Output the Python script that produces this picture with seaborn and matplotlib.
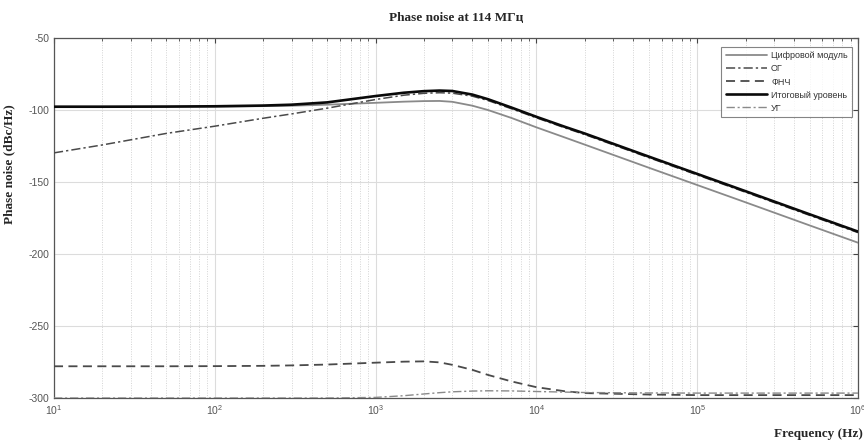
import numpy as np
import pandas as pd
import matplotlib
matplotlib.use("Agg")
import matplotlib.pyplot as plt
import matplotlib.ticker as mticker
import seaborn as sns

# ---- data ----
freq = [10, 20, 50, 100, 200, 300, 500, 1000, 1500, 2000, 2500, 3000, 4000,
        5000, 7000, 10000, 15000, 20000, 50000, 100000, 200000, 500000, 1000000]

digital = [-98, -98, -98, -97.9, -97.6, -97.3, -96.6, -95.3, -94.5, -94.1, -94.0,
           -94.6, -97.3, -100.3, -105.8, -112.3, -119.3, -124.3, -140.3, -152.3,
           -164.3, -180.3, -192.3]
og = [-130, -124.5, -116.5, -111.5, -106, -103, -99, -93, -90, -88.7, -88.3,
      -88.6, -90.7, -93.7, -99.4, -105.7, -112.6, -117.3, -133.3, -145.3,
      -157.3, -173.3, -185.3]
lpf = [-278, -278, -278, -277.9, -277.7, -277.4, -276.8, -275.5, -274.8, -274.6,
       -275.3, -277, -280.5, -284, -288.5, -292.5, -295.3, -296.6, -297.6, -298,
       -298, -298, -298]
total = [-98, -98, -97.9, -97.7, -97.2, -96.6, -95.0, -90.6, -88.3, -87.2, -86.8,
         -87.1, -89.6, -92.8, -98.6, -105.0, -111.9, -116.6, -132.6, -144.6,
         -156.6, -172.6, -184.6]
vco = [-300, -300, -300, -300, -300, -300, -300, -299.6, -298.4, -297.2, -296.3,
       -295.7, -295.2, -295.0, -295.1, -295.5, -295.9, -296.2, -296.5, -296.6,
       -296.6, -296.6, -296.6]

labels = ["Цифровой модуль", "ОГ", "ФНЧ", "Итоговый уровень", "УГ"]
series = [digital, og, lpf, total, vco]

title = "Phase noise at 114 МГц"
ylabel = "Phase noise (dBc/Hz)"
xlabel = "Frequency (Hz)"
yticks = [-50, -100, -150, -200, -250, -300]

# ---- style ----
sns.set_style("white")
plt.rcParams["font.family"] = ["Liberation Sans", "DejaVu Sans"]
plt.rcParams["axes.unicode_minus"] = False

styles = {
    "Цифровой модуль": dict(color="#8a8a8a", lw=1.3, ls="-"),
    "ОГ": dict(color="#4a4a4a", lw=1.1, ls=(0, (6, 2, 1.5, 2))),
    "ФНЧ": dict(color="#4a4a4a", lw=1.3, ls=(0, (5, 3))),
    "Итоговый уровень": dict(color="#0a0a0a", lw=1.9, ls="-"),
    "УГ": dict(color="#8a8a8a", lw=1.0, ls=(0, (6, 2, 1.5, 2))),
}

fig = plt.figure(figsize=(8.64, 4.41), dpi=100)
ax = fig.add_axes([54 / 864, 1 - 398 / 441, (858 - 54) / 864, (398 - 37.5) / 441])

for lab, vals in zip(labels, series):
    df = pd.DataFrame({"f": freq, "v": vals})
    st = styles[lab]
    sns.lineplot(data=df, x="f", y="v", ax=ax, color=st["color"], linewidth=st["lw"],
                 linestyle=st["ls"], label=lab, zorder=3 if lab != "Итоговый уровень" else 4)

ax.set_xscale("log")
ax.set_xlim(10, 1e6)
ax.set_ylim(-300, -50)
ax.set_yticks(yticks)
ax.xaxis.set_major_locator(mticker.LogLocator(base=10, numticks=10))
ax.xaxis.set_minor_locator(mticker.LogLocator(base=10, subs=np.arange(2, 10), numticks=20))
ax.xaxis.set_minor_formatter(mticker.NullFormatter())

ax.grid(True, which="major", axis="both", color="#dcdcdc", lw=0.8, ls="-", zorder=0)
ax.grid(True, which="minor", axis="x", color="#d4d4d4", lw=0.7, ls=(0, (1, 1.5)), zorder=0)
ax.set_axisbelow(True)

ax.tick_params(axis="both", which="both", direction="in", top=True, right=True,
               colors="#444444", labelcolor="#555555", labelsize=7.5)
ax.tick_params(which="major", length=3.5, width=0.8)
ax.tick_params(which="minor", length=2, width=0.6)
for sp in ax.spines.values():
    sp.set_color("#555555")
    sp.set_linewidth(0.9)

serif = ["Liberation Serif", "DejaVu Serif"]
ax.set_title(title, fontsize=9.5, fontweight="bold", family=serif, pad=12)
ax.set_ylabel(ylabel, fontsize=9.5, fontweight="bold", family=serif)
ax.yaxis.set_label_coords(-0.048, 0.65)
ax.set_xlabel(xlabel, fontsize=9.5, fontweight="bold", family=serif, ha="right")
ax.xaxis.set_label_coords(1.006, -0.083)

leg = ax.legend(loc="upper right", bbox_to_anchor=(0.993, 0.974), borderaxespad=0,
                fontsize=6.5, handlelength=4.6, labelspacing=0.45, frameon=True,
                fancybox=False, edgecolor="#666666", borderpad=0.5, handletextpad=0.4)
leg.get_frame().set_linewidth(0.8)
for t in leg.get_texts():
    t.set_color("#333333")

fig.savefig("out.png", dpi=100)
